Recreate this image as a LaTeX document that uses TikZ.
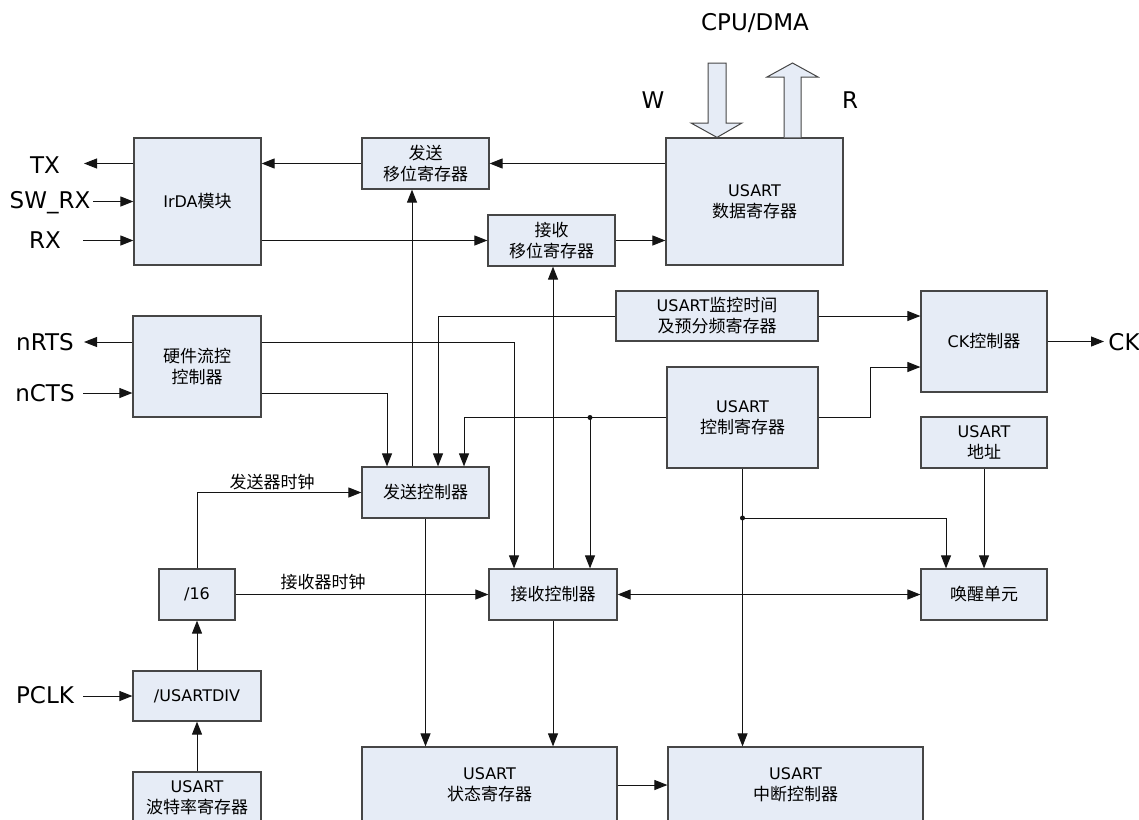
\documentclass[tikz,border=0pt]{standalone}
\usepackage{fontspec}
\setmainfont{DejaVu Sans}
\newfontfamily\cjk{Noto Sans CJK SC}
\newcommand\zh[1]{{\cjk\fontsize{17}{21}\selectfont#1}}
\usetikzlibrary{arrows.meta}

\definecolor{boxfill}{RGB}{230,236,246}
\definecolor{boxline}{RGB}{70,70,70}
\definecolor{wirecol}{RGB}{20,20,20}

\begin{document}
\begin{tikzpicture}[x=1pt,y=-1pt,
  blk/.style={draw=boxline, line width=1.2pt, fill=boxfill, inner sep=0pt,
              align=center, font=\fontsize{16}{21}\selectfont},
  sig/.style={font=\fontsize{23}{27}\selectfont, inner sep=0pt},
  wire/.style={line width=1pt, draw=wirecol},
  tip/.tip={Triangle[length=13pt,width=10pt]},
  arr/.style={wire, -tip},
  darr/.style={wire, tip-tip},
  bus/.style={draw=boxline, line width=1pt, fill=boxfill, line join=miter},
  clk/.style={inner sep=0pt}
]
\useasboundingbox (0,0) rectangle (1139,819);
\clip (0,0) rectangle (1139,819);

% ---------- blocks ----------
\node[blk, minimum width=127, minimum height=127] (irda) at (197.5,201.5) {IrDA\zh{模块}};
\node[blk, minimum width=127, minimum height=51] (txsr) at (425.5,163.5) {\zh{发送}\\\zh{移位寄存器}};
\node[blk, minimum width=127, minimum height=51] (rxsr) at (551.5,240.5) {\zh{接收}\\\zh{移位寄存器}};
\node[blk, minimum width=177, minimum height=127] (dr) at (754.5,201.5) {USART\\\zh{数据寄存器}};
\node[blk, minimum width=128, minimum height=101] (hfc) at (197,366.5) {\zh{硬件流控}\\\zh{控制器}};
\node[blk, minimum width=202, minimum height=50] (gtpr) at (717,316) {USART\zh{监控时间}\\\zh{及预分频寄存器}};
\node[blk, minimum width=126, minimum height=101] (ckc) at (984,341.5) {CK\zh{控制器}};
\node[blk, minimum width=151, minimum height=101] (cr) at (742.5,417.5) {USART\\\zh{控制寄存器}};
\node[blk, minimum width=126, minimum height=51] (addr) at (984,442.5) {USART\\\zh{地址}};
\node[blk, minimum width=127, minimum height=51] (txc) at (425.5,492.5) {\zh{发送控制器}};
\node[blk, minimum width=76, minimum height=51] (div) at (197,594.5) {/16};
\node[blk, minimum width=128, minimum height=51] (rxc) at (553,594.5) {\zh{接收控制器}};
\node[blk, minimum width=126, minimum height=51] (wu) at (984,594.5) {\zh{唤醒单元}};
\node[blk, minimum width=128, minimum height=50] (bdiv) at (197,696) {/USARTDIV};
\node[blk, minimum width=128, minimum height=51] (brr) at (197,797.5) {USART\\\zh{波特率寄存器}};
\node[blk, minimum width=255, minimum height=76] (sr) at (489.5,785) {USART\\\zh{状态寄存器}};
\node[blk, minimum width=255, minimum height=76] (ic) at (795.5,785) {USART\\\zh{中断控制器}};

% ---------- CPU/DMA bus arrows ----------
\node[sig] (cpu) at (755,23) {CPU/DMA};
\node[sig] (wl) at (653,100) {W};
\node[sig] (rl) at (850,100) {R};
\draw[bus] (708,63) -- (726,63) -- (726,123) -- (742,123) -- (dr.north -| 717,0)
  -- (691,123) -- (708,123) -- cycle;
\draw[bus] (dr.north -| 784,0) -- (784,77) -- (767,77) -- (792.5,63) -- (818,77)
  -- (801,77) -- (dr.north -| 801,0);

% ---------- external pins ----------
\node[sig] (tx) at (45,165) {TX};
\node[sig] (swrx) at (50,203) {SW\_RX};
\node[sig] (rx) at (45,240) {RX};
\node[sig] (nrts) at (45,342) {nRTS};
\node[sig] (ncts) at (45,393) {nCTS};
\node[sig] (pclk) at (45,695) {PCLK};
\node[sig] (ck) at (1124,342) {CK};
\coordinate (txend) at (84,163.5);
\coordinate (swrxend) at (93,201.5);
\coordinate (rxend) at (83,240.5);
\coordinate (nrtsend) at (84,342);
\coordinate (nctsend) at (83,393);
\coordinate (pclkend) at (83,696);
\coordinate (ckend) at (1104,341.5);

\draw[arr] (irda.west |- txsr) -- (txend);
\draw[arr] (swrxend) -- (irda.west);
\draw[arr] (rxend) -- (irda.west |- rxend);
\draw[arr] (hfc.west |- nrtsend) -- (nrtsend);
\draw[arr] (nctsend) -- (hfc.west |- nctsend);
\draw[arr] (pclkend) -- (bdiv.west);
\draw[arr] (ckc.east) -- (ckend);

% ---------- data path ----------
\draw[arr] (dr.west |- txsr) -- (txsr.east);
\draw[arr] (txsr.west) -- (irda.east |- txsr);
\draw[arr] (irda.east |- rxsr) -- (rxsr.west);
\draw[arr] (rxsr.east) -- (dr.west |- rxsr);
\draw[arr] (txc.north -| 412,0) -- (txsr.south -| 412,0);
\draw[arr] (rxc.north) -- (rxsr.south -| rxc.north);

% ---------- control lines ----------
\draw[arr] (gtpr.east) -- (gtpr.east -| ckc.west);
\draw[arr] (gtpr.west) -| (txc.north -| 438,0);
\draw[arr] (hfc.east |- nrtsend) -| (rxc.north -| 514,0);
\draw[arr] (hfc.east |- nctsend) -| (txc.north -| 387,0);
\draw[arr] (cr.west) -| (txc.north -| 464,0);
\coordinate (crdot) at (590,417.5);
\fill[wirecol] (crdot) circle (2.5);
\draw[arr] (crdot) -- (rxc.north -| crdot);
\coordinate (ckbend) at (870,367);
\draw[arr] (cr.east) -| (ckbend) -- (ckc.west |- ckbend);
\draw[arr] (cr.south) -- (ic.north -| cr.south);
\coordinate (crdot2) at (cr.south |- 0,518);
\fill[wirecol] (crdot2) circle (2.5);
\draw[arr] (crdot2) -| (wu.north -| 946,0);
\draw[arr] (addr.south) -- (wu.north);
\draw[darr] (rxc.east) -- (wu.west);

% ---------- clocks ----------
\draw[arr] (brr.north) -- (bdiv.south);
\draw[arr] (bdiv.north) -- (div.south);
\draw[arr] (div.north) |- (txc.west);
\draw[arr] (div.east) -- (rxc.west);
\node[clk] (txclk) at (272,482) {\zh{发送器时钟}};
\node[clk] (rxclk) at (323,582) {\zh{接收器时钟}};

% ---------- status / interrupt ----------
\draw[arr] (txc.south) -- (sr.north -| txc.south);
\draw[arr] (rxc.south) -- (sr.north -| rxc.south);
\draw[arr] (sr.east) -- (ic.west);
\end{tikzpicture}
\end{document}
